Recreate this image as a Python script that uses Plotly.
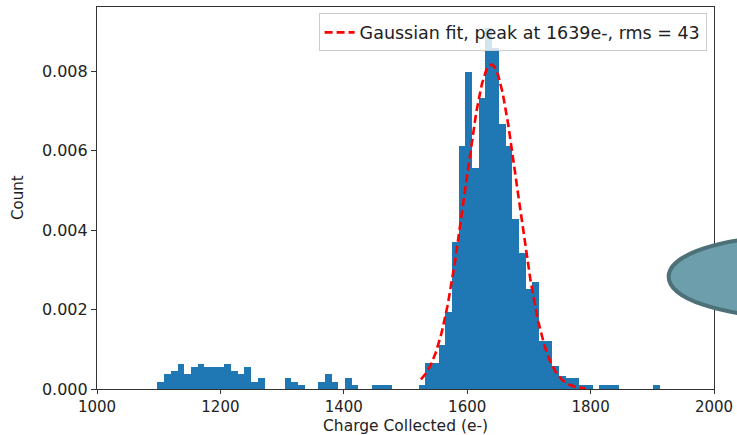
import numpy as np
import plotly.graph_objects as go

# Histogram binning (density-normalised counts)
BIN_START = 1098.0
BIN_WIDTH = 10.85
density = [
    0.00018, 0.00037, 0.00046, 0.00064, 0.00037, 0.00055, 0.00064, 0.00055,
    0.00055, 0.00055, 0.00064, 0.00046, 0.00037, 0.00055, 0.00018, 0.00028,
    0.0, 0.0, 0.0, 0.00028, 0.00018, 0.00009, 0.0, 0.0,
    0.00018, 0.00037, 0.00018, 0.0, 0.00028, 0.00009, 0.0, 0.0,
    0.00009, 0.00009, 0.00009, 0.0, 0.0, 0.0, 0.0, 0.00009,
    0.00065, 0.00065, 0.00112, 0.00193, 0.0037, 0.00612, 0.00799, 0.00557,
    0.00732, 0.0091, 0.0086, 0.00667, 0.00612, 0.00427, 0.00343, 0.00252,
    0.00269, 0.0012, 0.0012, 0.00057, 0.00034, 0.00028, 0.00028, 0.00009,
    0.00009, 0.0, 0.00009, 0.00009, 0.00009, 0.0, 0.0, 0.0,
    0.0, 0.0, 0.00009,
]

# Gaussian fit parameters
fit_mean = 1639
fit_rms = 43
fit_amp = 0.00817
fit_range = [1525, 1792]

x_ticks = [1000, 1200, 1400, 1600, 1800, 2000]
y_ticks = [0.0, 0.002, 0.004, 0.006, 0.008]

centers = BIN_START + BIN_WIDTH * (np.arange(len(density)) + 0.5)
xf = np.linspace(fit_range[0], fit_range[1], 300)
yf = fit_amp * np.exp(-0.5 * ((xf - fit_mean) / fit_rms) ** 2)

FONT = "DejaVu Sans"
TXT = "#222222"
fig = go.Figure()
fig.add_trace(go.Bar(
    x=centers, y=density, width=BIN_WIDTH,
    marker=dict(color="#1f77b4", line=dict(width=0)),
    showlegend=False, hoverinfo="skip",
))
fig.add_trace(go.Scatter(
    x=xf, y=yf, mode="lines",
    line=dict(color="red", width=2.6, dash="8px,4px"),
    name=f"Gaussian fit, peak at {fit_mean}e-, rms = {fit_rms}",
))

axis_common = dict(
    showline=True, mirror=True, linecolor="#333333", linewidth=1.2,
    ticks="outside", tickwidth=1.2, tickcolor="#333333",
    showgrid=False, zeroline=False, automargin=False,
)

fig.update_layout(
    width=737, height=435,
    margin=dict(l=97, r=23, t=7, b=46),
    paper_bgcolor="white", plot_bgcolor="white",
    bargap=0,
    xaxis=dict(range=[1000, 2000], tickvals=x_ticks, ticklen=4, **axis_common,
               tickfont=dict(family=FONT, size=15, color=TXT)),
    yaxis=dict(range=[0, 0.00962], tickvals=y_ticks, tickformat=".3f", ticklen=5,
               **axis_common, tickfont=dict(family=FONT, size=16, color=TXT)),
    legend=dict(
        x=0.988, y=0.983, xanchor="right", yanchor="top",
        bgcolor="rgba(255,255,255,0.8)", bordercolor="#cccccc", borderwidth=1,
        font=dict(family=FONT, size=17.5, color=TXT),
    ),
    annotations=[
        dict(text="Charge Collected (e-)", xref="paper", yref="paper",
             x=0.5, y=-0.098, xanchor="center", yanchor="middle", showarrow=False,
             borderpad=0, font=dict(family=FONT, size=15.5, color=TXT)),
        dict(text="Count", xref="paper", yref="paper", textangle=-90,
             x=-0.128, y=0.5, xanchor="center", yanchor="middle", showarrow=False,
             font=dict(family=FONT, size=15, color=TXT)),
    ],
    shapes=[dict(
        type="circle", xref="paper", yref="paper",
        x0=0.9265, x1=1.3158, y0=0.1893, y1=0.3987,
        fillcolor="#6c9fab", line=dict(color="#4d7079", width=4),
        layer="above",
    )],
)

fig.write_html("out.html")
